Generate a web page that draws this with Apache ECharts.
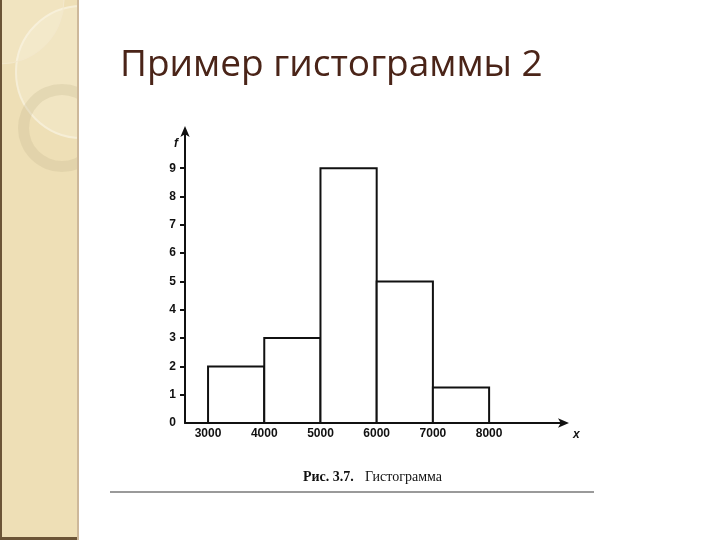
<!DOCTYPE html>
<html>
<head>
<meta charset="utf-8">
<script src="https://cdn.jsdelivr.net/npm/echarts@6/dist/echarts.min.js"></script>
<style>
  html, body { margin: 0; padding: 0; background: #ffffff; }
  #chart { width: 720px; height: 540px; }
</style>
</head>
<body>
<div id="chart"></div>
<script>
// class edges and frequencies
const binStarts = [3000, 4000, 5000, 6000, 7000];
const binEnds = [4000, 5000, 6000, 7000, 8000];
const freqs = [2, 3, 9, 5, 1.25];
const xTickLabels = [3000, 4000, 5000, 6000, 7000, 8000];
const yTickLabels = [0, 1, 2, 3, 4, 5, 6, 7, 8, 9];

const titleText = 'Пример гистограммы 2';
const captionBold = 'Рис. 3.7.';
const captionText = 'Гистограмма';

const chart = echarts.init(document.getElementById('chart'));

const data = binStarts.map((s, i) => [s, binEnds[i], freqs[i]]);

function renderBin(params, api) {
    const start = api.coord([api.value(0), api.value(2)]);
    const end = api.coord([api.value(1), 0]);
    return {
        type: 'rect',
        shape: {
            x: start[0],
            y: start[1],
            width: end[0] - start[0],
            height: end[1] - start[1]
        },
        style: { fill: '#ffffff', stroke: '#111111', lineWidth: 2 }
    };
}

const labelStyle = {
    color: '#111',
    fontFamily: 'Liberation Sans',
    fontWeight: 'bold',
    fontSize: 12
};

const option = {
    backgroundColor: '#ffffff',
    animation: false,
    grid: { left: 185, right: 155, top: 130, bottom: 117 },
    xAxis: {
        type: 'value',
        min: 2590,
        max: 9350,
        splitLine: { show: false },
        axisLine: {
            show: true,
            symbol: ['none', 'arrow'],
            symbolSize: [7, 11],
            symbolOffset: [0, 4],
            lineStyle: { color: '#111', width: 2 }
        },
        axisTick: { show: false },
        axisLabel: Object.assign({
            customValues: xTickLabels,
            formatter: v => String(v),
            margin: 5
        }, labelStyle)
    },
    yAxis: {
        type: 'value',
        min: 0,
        max: 10.35,
        splitLine: { show: false },
        axisLine: {
            show: true,
            symbol: ['none', 'arrow'],
            symbolSize: [7, 11],
            symbolOffset: [0, 4],
            lineStyle: { color: '#111', width: 2 }
        },
        axisTick: {
            show: true,
            customValues: yTickLabels.slice(1),
            length: 5,
            lineStyle: { color: '#111', width: 2 }
        },
        axisLabel: Object.assign({
            customValues: yTickLabels,
            margin: 9
        }, labelStyle)
    },
    graphic: [
        // left decorative panel
        { type: 'rect', left: 0, top: 0, z: 1, shape: { width: 79, height: 540 },
          style: { fill: '#eedfb6' }, silent: true },
        { type: 'circle', z: 2, shape: { cx: 82, cy: 72, r: 66 },
          style: { fill: 'rgba(255,250,235,0.22)', stroke: '#f6eed6', lineWidth: 2 }, silent: true },
        { type: 'circle', z: 2, shape: { cx: 0, cy: 0, r: 64 },
          style: { fill: 'rgba(255,250,235,0.2)', stroke: '#f3e8cc', lineWidth: 1 }, silent: true },
        { type: 'ring', z: 2, shape: { cx: 62, cy: 128, r: 44, r0: 33 },
          style: { fill: 'rgba(200,185,145,0.3)' }, silent: true },
        { type: 'rect', left: 0, top: 0, z: 3, shape: { width: 2, height: 540 },
          style: { fill: '#6b5436' }, silent: true },
        { type: 'rect', left: 0, top: 537, z: 3, shape: { width: 79, height: 3 },
          style: { fill: '#6b5436' }, silent: true },
        { type: 'rect', left: 77, top: 0, z: 3, shape: { width: 2, height: 540 },
          style: { fill: '#cdb89a' }, silent: true },
        { type: 'rect', left: 79, top: 0, z: 4, shape: { width: 80, height: 240 },
          style: { fill: '#ffffff' }, silent: true },
        // title
        { type: 'text', left: 120, top: 47, z: 10,
          style: { text: titleText, fill: '#4a2418', font: '37px "Open Sans"' } },
        // caption
        { type: 'text', left: 303, top: 470, z: 10,
          style: { text: captionBold, fill: '#111', font: 'bold 14px "Liberation Serif"' } },
        { type: 'text', left: 365, top: 470, z: 10,
          style: { text: captionText, fill: '#111', font: '14px "Liberation Serif"' } },
        { type: 'rect', left: 110, top: 491, z: 10, shape: { width: 484, height: 2 },
          style: { fill: '#9a9a9a' } },
        // axis letters
        { type: 'text', left: 174, top: 138, z: 10,
          style: { text: 'f', fill: '#111', font: 'italic bold 12px "Liberation Sans"' } },
        { type: 'text', left: 573, top: 429, z: 10,
          style: { text: 'x', fill: '#111', font: 'italic bold 12px "Liberation Sans"' } }
    ],
    series: [{
        type: 'custom',
        renderItem: renderBin,
        encode: { x: [0, 1], y: 2 },
        data: data
    }]
};

chart.setOption(option);
</script>
</body>
</html>
